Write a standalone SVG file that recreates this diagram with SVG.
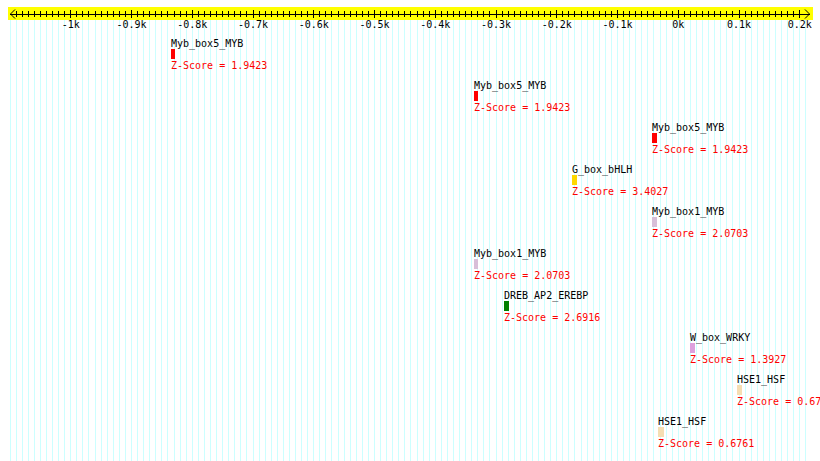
<svg xmlns="http://www.w3.org/2000/svg" xmlns:xlink="http://www.w3.org/1999/xlink" width="820" height="461" viewBox="0 0 820 461">
<style>
text{font-family:"DejaVu Sans Mono","Liberation Mono",monospace;font-size:10px}
.lbl{fill:#000}
.z{fill:#ff0000}
.ax{fill:#000;text-anchor:middle}
</style>
<defs>
<g id="gblock" stroke="#ccffff" stroke-width="1" shape-rendering="crispEdges">
<line x1="0" y1="20" x2="0" y2="461"/><line x1="6.075" y1="20" x2="6.075" y2="461"/><line x1="12.15" y1="20" x2="12.15" y2="461"/><line x1="18.225" y1="20" x2="18.225" y2="461"/><line x1="24.3" y1="20" x2="24.3" y2="461"/><line x1="30.375" y1="20" x2="30.375" y2="461"/><line x1="36.45" y1="20" x2="36.45" y2="461"/><line x1="42.525" y1="20" x2="42.525" y2="461"/><line x1="48.6" y1="20" x2="48.6" y2="461"/><line x1="54.675" y1="20" x2="54.675" y2="461"/>
</g>
<g id="tblock" stroke="#000" stroke-width="1" shape-rendering="crispEdges">
<line x1="0" y1="10" x2="0" y2="18"/><line x1="6.075" y1="11" x2="6.075" y2="17"/><line x1="12.15" y1="11" x2="12.15" y2="17"/><line x1="18.225" y1="11" x2="18.225" y2="17"/><line x1="24.3" y1="11" x2="24.3" y2="17"/><line x1="30.375" y1="11" x2="30.375" y2="17"/><line x1="36.45" y1="11" x2="36.45" y2="17"/><line x1="42.525" y1="11" x2="42.525" y2="17"/><line x1="48.6" y1="11" x2="48.6" y2="17"/><line x1="54.675" y1="11" x2="54.675" y2="17"/>
</g>
</defs>
<rect x="0" y="0" width="820" height="461" fill="#fff"/>
<g id="grid" stroke="#ccffff" stroke-width="1" shape-rendering="crispEdges">
<use xlink:href="#gblock" x="10"/><use xlink:href="#gblock" x="70.75"/><use xlink:href="#gblock" x="131.5"/><use xlink:href="#gblock" x="192.25"/><use xlink:href="#gblock" x="253"/><use xlink:href="#gblock" x="313.75"/><use xlink:href="#gblock" x="374.5"/><use xlink:href="#gblock" x="435.25"/><use xlink:href="#gblock" x="496"/><use xlink:href="#gblock" x="556.75"/><use xlink:href="#gblock" x="617.5"/><use xlink:href="#gblock" x="678.25"/><use xlink:href="#gblock" x="739"/>
<line x1="799.75" y1="20" x2="799.75" y2="461"/><line x1="805.8" y1="20" x2="805.8" y2="461"/>
</g>
<g id="axis">
<rect x="8" y="7" width="805" height="13" fill="#ffff00"/>
<g stroke="#000" stroke-width="1" shape-rendering="crispEdges">
<line x1="10" y1="14" x2="810" y2="14"/>
<use xlink:href="#tblock" x="70.75"/><use xlink:href="#tblock" x="131.5"/><use xlink:href="#tblock" x="192.25"/><use xlink:href="#tblock" x="253"/><use xlink:href="#tblock" x="313.75"/><use xlink:href="#tblock" x="374.5"/><use xlink:href="#tblock" x="435.25"/><use xlink:href="#tblock" x="496"/><use xlink:href="#tblock" x="556.75"/><use xlink:href="#tblock" x="617.5"/><use xlink:href="#tblock" x="678.25"/><use xlink:href="#tblock" x="739"/>
<line x1="16.075" y1="11" x2="16.075" y2="17"/><line x1="22.15" y1="11" x2="22.15" y2="17"/><line x1="28.225" y1="11" x2="28.225" y2="17"/><line x1="34.3" y1="11" x2="34.3" y2="17"/><line x1="40.375" y1="11" x2="40.375" y2="17"/><line x1="46.45" y1="11" x2="46.45" y2="17"/><line x1="52.525" y1="11" x2="52.525" y2="17"/><line x1="58.6" y1="11" x2="58.6" y2="17"/><line x1="64.675" y1="11" x2="64.675" y2="17"/>
<line x1="799.75" y1="10" x2="799.75" y2="18"/>
</g>
<path d="M15 9.5L10.5 14L15 18.5M805 9.5L809.5 14L805 18.5" fill="none" stroke="#000" stroke-width="1"/>
<text class="ax" x="70.75" y="28">-1k</text>
<text class="ax" x="131.5" y="28">-0.9k</text>
<text class="ax" x="192.25" y="28">-0.8k</text>
<text class="ax" x="253" y="28">-0.7k</text>
<text class="ax" x="313.75" y="28">-0.6k</text>
<text class="ax" x="374.5" y="28">-0.5k</text>
<text class="ax" x="435.25" y="28">-0.4k</text>
<text class="ax" x="496" y="28">-0.3k</text>
<text class="ax" x="556.75" y="28">-0.2k</text>
<text class="ax" x="617.5" y="28">-0.1k</text>
<text class="ax" x="678.25" y="28">0k</text>
<text class="ax" x="739" y="28">0.1k</text>
<text class="ax" x="799.75" y="28">0.2k</text>
</g>
<g id="motif1"><text class="lbl" x="171" y="47">Myb_box5_MYB</text><rect x="171" y="49" width="4" height="10" fill="#ff0000"/><text class="z" x="171" y="69">Z-Score = 1.9423</text></g>
<g id="motif2"><text class="lbl" x="474" y="89">Myb_box5_MYB</text><rect x="474" y="91" width="4" height="10" fill="#ff0000"/><text class="z" x="474" y="111">Z-Score = 1.9423</text></g>
<g id="motif3"><text class="lbl" x="652" y="131">Myb_box5_MYB</text><rect x="652" y="133" width="5" height="10" fill="#ff0000"/><text class="z" x="652" y="153">Z-Score = 1.9423</text></g>
<g id="motif4"><text class="lbl" x="572" y="173">G_box_bHLH</text><rect x="572" y="175" width="5" height="10" fill="#ffd700"/><text class="z" x="572" y="195">Z-Score = 3.4027</text></g>
<g id="motif5"><text class="lbl" x="652" y="215">Myb_box1_MYB</text><rect x="652" y="217" width="5" height="10" fill="#d8bfd8"/><text class="z" x="652" y="237">Z-Score = 2.0703</text></g>
<g id="motif6"><text class="lbl" x="474" y="257">Myb_box1_MYB</text><rect x="474" y="259" width="4" height="10" fill="#d8bfd8"/><text class="z" x="474" y="279">Z-Score = 2.0703</text></g>
<g id="motif7"><text class="lbl" x="504" y="299">DREB_AP2_EREBP</text><rect x="504" y="301" width="5" height="10" fill="#008000"/><text class="z" x="504" y="321">Z-Score = 2.6916</text></g>
<g id="motif8"><text class="lbl" x="690" y="341">W_box_WRKY</text><rect x="690" y="343" width="5" height="10" fill="#dda0dd"/><text class="z" x="690" y="363">Z-Score = 1.3927</text></g>
<g id="motif9"><text class="lbl" x="737" y="383">HSE1_HSF</text><rect x="737" y="385" width="5" height="10" fill="#f5deb3"/><text class="z" x="737" y="405">Z-Score = 0.67</text></g>
<g id="motif10"><text class="lbl" x="658" y="425">HSE1_HSF</text><rect x="658" y="427" width="6" height="10" fill="#f5deb3"/><text class="z" x="658" y="447">Z-Score = 0.6761</text></g>
<g id="connectors"/>
</svg>
